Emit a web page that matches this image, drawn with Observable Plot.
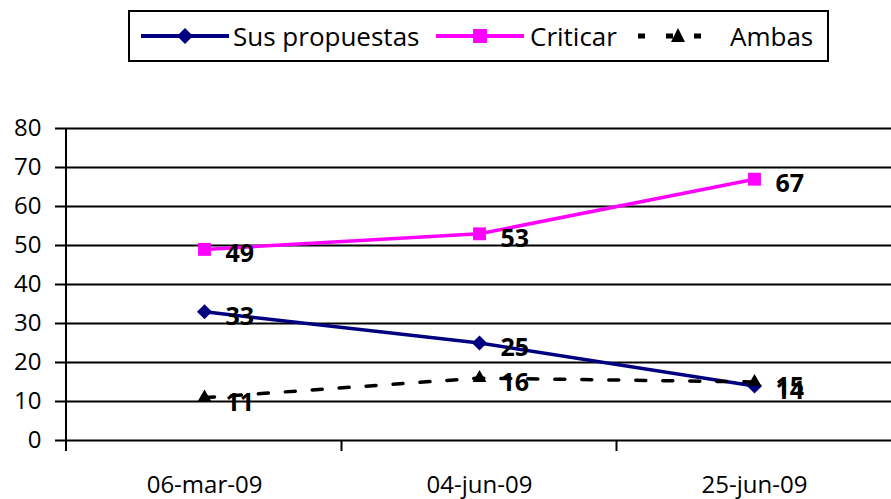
<!DOCTYPE html>
<html><head><meta charset="utf-8">
<script src="https://cdn.jsdelivr.net/npm/d3@7"></script>
<script src="https://cdn.jsdelivr.net/npm/@observablehq/plot@0.6"></script>
<style>
body{margin:0;background:#fff;font-family:"Open Sans",sans-serif;color:#000;}
#wrap{width:891px;}
#legend{position:relative;height:70px;}
#legend .box{position:absolute;left:128px;top:10px;width:697px;height:48px;border:2px solid #000;}
#legend .item{position:absolute;top:10px;height:52px;display:flex;align-items:center;}
#legend .lbl{font-size:26px;line-height:1;white-space:nowrap;}
#chart svg{display:block;}
</style></head>
<body><div id="wrap"><div id="legend"><div class="box"></div></div><div id="chart"></div></div>
<script>
const dates = ["06-mar-09", "04-jun-09", "25-jun-09"];
const susPropuestas = [33, 25, 14];
const criticar = [49, 53, 67];
const ambas = [11, 16, 15];
const yTicks = [0, 10, 20, 30, 40, 50, 60, 70, 80];
const seriesNames = ["Sus propuestas", "Criticar", "Ambas"];
const seriesColors = ["#000080", "#ff00ff", "#000000"];
const seriesSymbols = ["diamond2", "square2", "triangle2"];
const seriesR = [6.8, 8.2, 6.6];
const seriesDash = [null, null, "10,17"];
const seriesValues = [susPropuestas, criticar, ambas];

const series = seriesNames.map((name, k) => ({
  name, color: seriesColors[k], symbol: seriesSymbols[k], r: seriesR[k], dash: seriesDash[k],
  data: dates.map((d, i) => ({series: name, date: d, value: seriesValues[k][i]}))
}));

// Legend (HTML, above the SVG)
const legend = document.getElementById("legend");
const legendLayout = [
  {sample: 141, sw: 88, text: 233},
  {sample: 436, sw: 88, text: 530},
  {sample: 636, sw: 84, text: 730}
];
series.forEach((s, k) => {
  const L = legendLayout[k];
  const it = document.createElement("div");
  it.className = "item"; it.style.left = L.sample + "px";
  const sw = L.sw, cx = sw / 2;
  let marker;
  if (s.symbol === "diamond2") marker = `<path d="M${cx},${26-8}L${cx+8},26L${cx},${26+8}L${cx-8},26Z" fill="${s.color}"/>`;
  else if (s.symbol === "square2") marker = `<rect x="${cx-7}" y="19" width="14" height="14" fill="${s.color}"/>`;
  else marker = `<path d="M${cx},18L${cx+7},32L${cx-7},32Z" fill="${s.color}"/>`;
  const line = s.dash
    ? `<line x1="2" x2="${sw}" y1="26" y2="26" stroke="${s.color}" stroke-width="5" stroke-dasharray="7,21"/>`
    : `<line x1="0" x2="${sw}" y1="26" y2="26" stroke="${s.color}" stroke-width="4"/>`;
  it.innerHTML = `<svg width="${sw}" height="52">${line}${marker}</svg>`;
  legend.appendChild(it);
  const t = document.createElement("div");
  t.className = "item"; t.style.left = L.text + "px";
  t.innerHTML = `<span class="lbl">${s.name}</span>`;
  legend.appendChild(t);
});

const width = 891, height = 429, marginLeft = 66, marginRight = 0, marginTop = 58, marginBottom = 59;

const boundaries = (index, scales, values, dims) => {
  const g = d3.create("svg:g").attr("stroke", "#000").attr("stroke-width", 2);
  const step = (dims.width - dims.marginLeft - dims.marginRight) / dates.length;
  const y0 = scales.y(0), yTop = scales.y(yTicks[yTicks.length - 1]);
  g.append("line").attr("x1", dims.marginLeft).attr("x2", dims.marginLeft).attr("y1", yTop).attr("y2", y0 + 11);
  dates.forEach((d, i) => {
    if (i === 0) return;
    const x = scales.x(d) - step / 2;
    g.append("line").attr("x1", x).attr("x2", x).attr("y1", y0).attr("y2", y0 + 11);
  });
  return g.node();
};

const marks = [
  Plot.gridY(yTicks, {stroke: "#000", strokeOpacity: 1, strokeWidth: 2}),
  Plot.axisY(yTicks, {tickSize: 11, tickPadding: 14, fontSize: 24, label: null, strokeWidth: 2}),
  Plot.axisX({tickSize: 0, tickPadding: 35, fontSize: 24, label: null, style: "letter-spacing:1px"}),
  boundaries
];
series.forEach(s => {
  marks.push(Plot.line(s.data, {x: "date", y: "value", stroke: s.color, strokeWidth: 3.5, strokeDasharray: s.dash || undefined}));
});
series.forEach(s => {
  marks.push(Plot.dot(s.data, {x: "date", y: "value", symbol: () => s.symbol, fill: s.color, r: s.r, stroke: "none"}));
});
series.forEach(s => {
  marks.push(Plot.text(s.data, {x: "date", y: "value", text: d => String(d.value), dx: 21, dy: 5, textAnchor: "start", fontSize: 25, fontWeight: "bold", fill: "#000"}));
});

const chart = Plot.plot({
  width, height, marginLeft, marginRight, marginTop, marginBottom,
  style: {fontFamily: "'Open Sans', sans-serif", color: "#000", background: "#fff", overflow: "visible"},
  x: {type: "point", domain: dates, padding: 0.5},
  y: {domain: [0, 80]},
  marks
});
document.getElementById("chart").appendChild(chart);
</script></body></html>
